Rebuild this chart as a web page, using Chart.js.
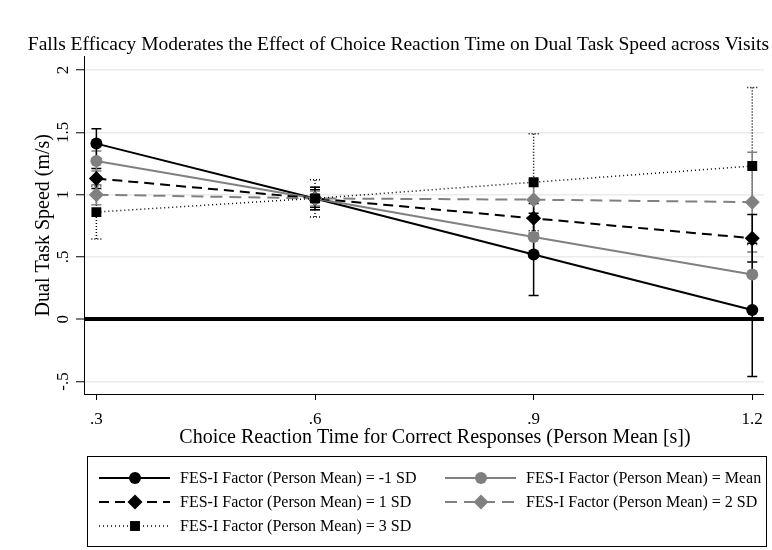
<!DOCTYPE html>
<html>
<head>
<meta charset="utf-8">
<script src="https://cdn.jsdelivr.net/npm/chart.js@4/dist/chart.umd.min.js"></script>
<style>
  body { margin: 0; background: #fff; }
  #wrap { width: 772px; height: 550px; }
</style>
</head>
<body>
<div id="wrap"><canvas id="myChart" width="772" height="550"></canvas></div>
<script>
const reactionTime = [0.3, 0.6, 0.9, 1.2];
const xTicks = [0.3, 0.6, 0.9, 1.2];
const yTicks = [-0.5, 0, 0.5, 1, 1.5, 2];

const seriesLabels = [
  'FES-I Factor (Person Mean) = -1 SD',
  'FES-I Factor (Person Mean) = Mean',
  'FES-I Factor (Person Mean) = 1 SD',
  'FES-I Factor (Person Mean) = 2 SD',
  'FES-I Factor (Person Mean) = 3 SD'
];
const xTitle = 'Choice Reaction Time for Correct Responses (Person Mean [s])';

// point estimates and confidence limits
const speedMinus1 = [1.41, 0.97, 0.52, 0.075];
const lowMinus1 = [1.29, 0.88, 0.19, -0.46];
const highMinus1 = [1.53, 1.06, 0.85, 0.61];

const speedMean = [1.27, 0.97, 0.66, 0.36];
const lowMean = [1.19, 0.91, 0.50, 0.08];
const highMean = [1.35, 1.03, 0.82, 0.64];

const speed1SD = [1.13, 0.97, 0.81, 0.65];
const low1SD = [1.05, 0.90, 0.69, 0.46];
const high1SD = [1.21, 1.04, 0.93, 0.84];

const speed2SD = [1.00, 0.97, 0.96, 0.94];
const low2SD = [0.92, 0.88, 0.80, 0.54];
const high2SD = [1.08, 1.06, 1.12, 1.34];

const speed3SD = [0.86, 0.97, 1.10, 1.23];
const low3SD = [0.645, 0.82, 0.71, 0.60];
const high3SD = [1.07, 1.12, 1.49, 1.86];

const serif = "'Liberation Serif', 'DejaVu Serif', serif";

function toPoints(values) {
  return values.map((v, i) => ({ x: reactionTime[i], y: v }));
}

function fmt(v) {
  let s = String(Math.round(v * 10) / 10);
  return s.replace(/^0\./, '.').replace(/^-0\./, '-.');
}

function makeSet(idx, values, lo, hi, color, dash, width, shape, radius) {
  return {
    label: seriesLabels[idx],
    data: toPoints(values),
    errLow: lo,
    errHigh: hi,
    borderColor: color,
    backgroundColor: color,
    borderDash: dash,
    borderWidth: width,
    pointStyle: shape,
    pointRadius: radius,
    pointHoverRadius: radius,
    pointBorderWidth: 0,
    pointBackgroundColor: color,
    showLine: true,
    tension: 0
  };
}

const datasets = [
  makeSet(4, speed3SD, low3SD, high3SD, '#000000', [1, 3], 1.5, 'rect', 7),
  makeSet(3, speed2SD, low2SD, high2SD, '#808080', [12, 7], 2, 'rectRot', 7.5),
  makeSet(2, speed1SD, low1SD, high1SD, '#000000', [10, 6], 2, 'rectRot', 7.5),
  makeSet(1, speedMean, lowMean, highMean, '#808080', [], 2, 'circle', 6),
  makeSet(0, speedMinus1, lowMinus1, highMinus1, '#000000', [], 2, 'circle', 6)
];

const errorBars = {
  id: 'errorBars',
  beforeDatasetsDraw(chart) {
    const ctx = chart.ctx;
    const xs = chart.scales.x;
    const ys = chart.scales.y;
    ctx.save();
    chart.data.datasets.forEach((ds) => {
      ctx.strokeStyle = ds.borderColor;
      ctx.lineWidth = 1.5;
      ctx.setLineDash(ds.borderDash.length && ds.borderDash[0] < 3 ? [1, 2] : []);
      ds.errLow.forEach((lo, i) => {
        const px = xs.getPixelForValue(reactionTime[i]);
        const y1 = ys.getPixelForValue(lo);
        const y2 = ys.getPixelForValue(ds.errHigh[i]);
        ctx.beginPath();
        ctx.moveTo(px, y1); ctx.lineTo(px, y2);
        ctx.moveTo(px - 5, y1); ctx.lineTo(px + 5, y1);
        ctx.moveTo(px - 5, y2); ctx.lineTo(px + 5, y2);
        ctx.stroke();
      });
    });
    ctx.restore();
  }
};

// rotated y tick labels (Stata style) and the x axis title
const axisText = {
  id: 'axisText',
  afterDraw(chart) {
    const ctx = chart.ctx;
    const ys = chart.scales.y;
    ctx.save();
    ctx.fillStyle = '#000';
    ctx.font = '17px ' + serif;
    ctx.textAlign = 'center';
    ctx.textBaseline = 'middle';
    ys.ticks.forEach((t) => {
      const py = ys.getPixelForValue(t.value);
      ctx.save();
      ctx.translate(64, py);
      ctx.rotate(-Math.PI / 2);
      ctx.fillText(fmt(t.value), 0, 0);
      ctx.restore();
    });
    ctx.font = '20px ' + serif;
    ctx.fillText(xTitle, 435, 438);
    ctx.restore();
  }
};

function drawMarker(ctx, shape, color, x, y, r) {
  ctx.fillStyle = color;
  ctx.beginPath();
  if (shape === 'circle') {
    ctx.arc(x, y, r, 0, Math.PI * 2);
  } else if (shape === 'rectRot') {
    ctx.moveTo(x, y - r); ctx.lineTo(x + r, y); ctx.lineTo(x, y + r); ctx.lineTo(x - r, y);
    ctx.closePath();
  } else {
    const h = r * Math.SQRT1_2;
    ctx.rect(x - h, y - h, h * 2, h * 2);
  }
  ctx.fill();
}

const boxLegend = {
  id: 'boxLegend',
  afterDraw(chart) {
    const ctx = chart.ctx;
    ctx.save();
    ctx.strokeStyle = '#000';
    ctx.lineWidth = 1;
    ctx.strokeRect(87.5, 456.5, 679, 90);
    const order = [4, 3, 2, 1, 0];
    const cols = [99, 445];
    const rows = [478, 502, 526];
    ctx.font = '16px ' + serif;
    ctx.textBaseline = 'middle';
    order.forEach((di, k) => {
      const ds = chart.data.datasets[di];
      const x0 = cols[k % 2];
      const y = rows[Math.floor(k / 2)];
      ctx.strokeStyle = ds.borderColor;
      ctx.lineWidth = ds.borderWidth;
      ctx.setLineDash(ds.borderDash);
      ctx.beginPath();
      ctx.moveTo(x0, y); ctx.lineTo(x0 + 71, y);
      ctx.stroke();
      ctx.setLineDash([]);
      drawMarker(ctx, ds.pointStyle, ds.borderColor, x0 + 36, y, ds.pointRadius);
      ctx.fillStyle = '#000';
      ctx.fillText(ds.label, x0 + 81, y + 1);
    });
    ctx.restore();
  }
};

const ctx = document.getElementById('myChart');
const myChart = new Chart(ctx, {
  type: 'scatter',
  data: { datasets: datasets },
  plugins: [errorBars, axisText, boxLegend],
  options: {
    responsive: false,
    animation: false,
    events: [],
    layout: { padding: { top: 0, right: 3, bottom: 100, left: 0 } },
    plugins: {
      legend: { display: false },
      tooltip: { enabled: false },
      title: {
        display: true,
        text: 'Falls Efficacy Moderates the Effect of Choice Reaction Time on Dual Task Speed across Visits',
        align: 'end',
        color: '#000',
        font: { family: serif, size: 19.5, weight: 'normal' },
        padding: { top: 33, bottom: 0 }
      }
    },
    scales: {
      x: {
        type: 'linear',
        min: 0.283,
        max: 1.216,
        afterBuildTicks: (scale) => { scale.ticks = xTicks.map((v) => ({ value: v })); },
        afterFit: (scale) => { scale.height = 56; },
        border: { display: true, color: '#000', width: 1 },
        grid: { drawOnChartArea: false, drawTicks: true, tickLength: 6, tickColor: '#000', tickWidth: 1 },
        ticks: {
          color: '#000',
          padding: 9,
          font: { family: serif, size: 17 },
          callback: (v) => fmt(v)
        },
        title: { display: false }
      },
      y: {
        type: 'linear',
        min: -0.6,
        max: 2.11,
        afterBuildTicks: (scale) => { scale.ticks = yTicks.map((v) => ({ value: v })); },
        afterFit: (scale) => { scale.width = 84; },
        border: { display: true, color: '#000', width: 1 },
        grid: {
          drawTicks: true,
          tickLength: 8,
          tickColor: '#000',
          tickWidth: 1,
          color: (c) => (c.tick && c.tick.value === 0 ? '#000' : '#ebebeb'),
          lineWidth: (c) => (c.tick && c.tick.value === 0 ? 4 : 1.5)
        },
        ticks: { display: false },
        title: {
          display: true,
          text: 'Dual Task Speed (m/s)',
          color: '#000',
          font: { family: serif, size: 20 },
          padding: { top: 32, bottom: 0 }
        }
      }
    }
  }
});
</script>
</body>
</html>
